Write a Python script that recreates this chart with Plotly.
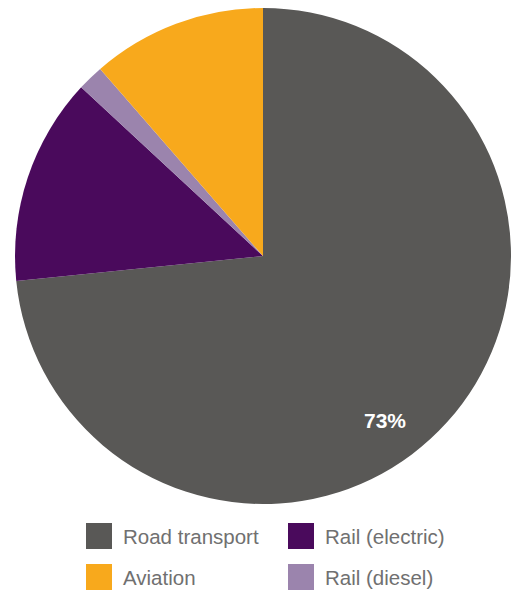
import plotly.graph_objects as go

labels = ["Road transport", "Rail (electric)", "Rail (diesel)", "Aviation"]
values = [73.4, 13.5, 1.7, 11.4]
colors = ["#595856", "#4a0a5c", "#9b84ad", "#f8a91c"]
label_text = "73%"

legend_order = ["Road transport", "Rail (electric)", "Aviation", "Rail (diesel)"]

W, H = 511, 591

fig = go.Figure()
fig.add_trace(go.Pie(
    labels=labels, values=values, sort=False, direction="clockwise", rotation=0,
    marker=dict(colors=colors, line=dict(width=0)),
    textinfo="none",
    showlegend=False, hoverinfo="label+percent",
    domain=dict(x=[15 / W, 1.0], y=[1 - 505 / H, 1 - 7 / H]),
))

shapes, annotations = [], []
col_x = [86, 288]
row_y = [523, 564]
sq = 26
for i, name in enumerate(legend_order):
    c = colors[labels.index(name)]
    x0 = col_x[i % 2]
    y0 = row_y[i // 2]
    shapes.append(dict(type="rect", xref="paper", yref="paper",
                       x0=x0 / W, x1=(x0 + sq) / W, y0=1 - (y0 + sq) / H, y1=1 - y0 / H,
                       fillcolor=c, line=dict(width=0)))
    annotations.append(dict(xref="paper", yref="paper", x=(x0 + 35) / W, y=1 - (y0 + sq / 2) / H,
                            xanchor="left", yanchor="middle", showarrow=False, text=name,
                            font=dict(family="Liberation Sans", size=20.5, color="#707070")))

annotations.append(dict(xref="paper", yref="paper", x=385 / W, y=1 - 420 / H,
                        xanchor="center", yanchor="middle", showarrow=False, text=label_text,
                        font=dict(family="Liberation Sans", size=21, color="white", weight="bold")))

fig.update_layout(width=W, height=H, margin=dict(l=0, r=0, t=0, b=0),
                  paper_bgcolor="white", plot_bgcolor="white",
                  shapes=shapes, annotations=annotations)
fig.write_html("out.html", config={"displayModeBar": False},
               post_script="document.body.style.margin='0';document.body.style.overflow='hidden';")
